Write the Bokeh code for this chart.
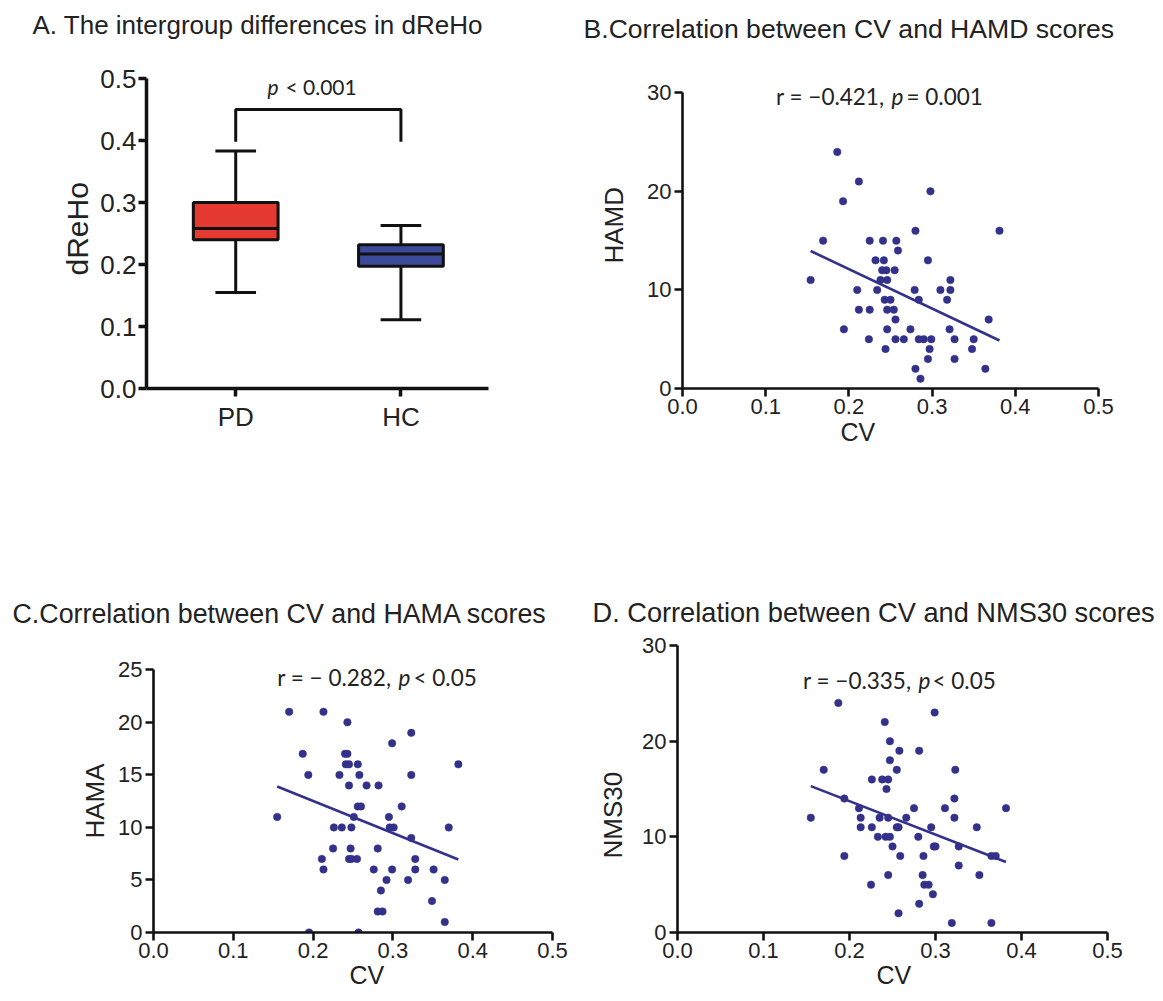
import numpy as np
from bokeh.plotting import figure
from bokeh.models import Range1d, FixedTicker, Label, PrintfTickFormatter, Title
from bokeh.layouts import row, column
from bokeh.embed import file_html
from bokeh.resources import INLINE

# ---------------- data ----------------
groups = ["PD", "HC"]
box_lower = [0.155, 0.111]
box_q1 = [0.240, 0.197]
box_median = [0.258, 0.217]
box_q3 = [0.300, 0.232]
box_upper = [0.383, 0.263]
box_colors = ["#E43A31", "#3D4A9A"]
bracket_y = 0.450
bracket_leg_bottom = 0.398

cv_hamd = [0.186, 0.212, 0.193, 0.298, 0.280, 0.169, 0.225, 0.241, 0.257, 0.259,
           0.232, 0.242, 0.295, 0.240, 0.245, 0.255, 0.154, 0.238, 0.246, 0.322,
           0.210, 0.234, 0.279, 0.310, 0.322, 0.243, 0.250, 0.284, 0.318, 0.212,
           0.225, 0.246, 0.254, 0.256, 0.194, 0.246, 0.274, 0.321, 0.224, 0.256,
           0.266, 0.284, 0.290, 0.299, 0.327, 0.244, 0.297, 0.295, 0.327, 0.280,
           0.286, 0.381, 0.368, 0.350, 0.348, 0.364]
hamd = [24, 21, 19, 20, 16, 15, 15, 15, 15, 14,
        13, 13, 13, 12, 12, 12, 11, 11, 11, 11,
        10, 10, 10, 10, 10, 9, 9, 9, 9, 8,
        8, 8, 8, 7, 6, 6, 6, 6, 5, 5,
        5, 5, 5, 5, 5, 4, 4, 3, 3, 2,
        1, 16, 7, 5, 4, 2]

cv_hama = [0.170, 0.213, 0.243, 0.187, 0.240, 0.243, 0.299, 0.323, 0.241, 0.245,
           0.256, 0.194, 0.233, 0.258, 0.323, 0.245, 0.267, 0.282, 0.256, 0.260,
           0.311, 0.155, 0.251, 0.295, 0.226, 0.236, 0.248, 0.296, 0.301, 0.323,
           0.225, 0.247, 0.281, 0.211, 0.245, 0.248, 0.255, 0.328, 0.213, 0.276,
           0.299, 0.328, 0.292, 0.319, 0.285, 0.281, 0.287, 0.195, 0.257, 0.382,
           0.370, 0.349, 0.365, 0.365, 0.351]
hama = [21, 21, 20, 17, 17, 17, 18, 19, 16, 16,
        16, 15, 15, 15, 15, 14, 14, 14, 12, 12,
        12, 11, 11, 11, 10, 10, 10, 10, 10, 9,
        8, 8, 8, 7, 7, 7, 7, 7, 6, 6,
        6, 6, 5, 5, 4, 2, 2, 0, 0, 16,
        10, 3, 1, 5, 6]

cv_nms = [0.187, 0.241, 0.299, 0.247, 0.258, 0.281, 0.247, 0.170, 0.255, 0.226,
          0.238, 0.245, 0.243, 0.194, 0.211, 0.275, 0.311, 0.155, 0.213, 0.235,
          0.245, 0.266, 0.322, 0.213, 0.226, 0.255, 0.257, 0.295, 0.233, 0.242,
          0.247, 0.280, 0.250, 0.298, 0.300, 0.327, 0.194, 0.259, 0.286, 0.327,
          0.245, 0.285, 0.225, 0.287, 0.292, 0.297, 0.281, 0.257, 0.319, 0.382,
          0.348, 0.351, 0.365, 0.370, 0.365, 0.323, 0.322]
nms30 = [24, 22, 23, 20, 19, 19, 18, 17, 17, 16,
         16, 16, 15, 14, 13, 13, 13, 12, 12, 12,
         12, 12, 12, 11, 11, 11, 11, 11, 10, 10,
         10, 10, 9, 9, 9, 9, 8, 8, 8, 7,
         6, 6, 5, 5, 5, 4, 3, 2, 1, 13,
         11, 6, 8, 8, 1, 17, 14]

cv_ticks = [0.0, 0.1, 0.2, 0.3, 0.4, 0.5]

# ---------------- styles ----------------
SANS = "Liberation Sans"
NOTE_FONT = "Lato"
TEXT = "#222222"
AXIS = "#111111"
DOT = "#33318A"


class Panel:
    """Figure with a fixed frame; texts inside the frame are placed at page pixel
    positions through the data scales."""

    def __init__(self, ox, oy, width, height, left, right, top, bottom, xr, yr):
        self.ox, self.oy = ox, oy
        self.fl, self.ft = left, top
        self.fw = width - left - right
        self.fh = height - top - bottom
        self.xr, self.yr = xr, yr
        p = figure(width=width, height=height, x_range=Range1d(*xr), y_range=Range1d(*yr),
                   output_backend="svg", toolbar_location=None,
                   min_border_left=left, min_border_right=right,
                   min_border_top=top, min_border_bottom=bottom)
        p.grid.visible = False
        p.outline_line_color = None
        self.p = p

    def dx(self, px):
        return self.xr[0] + (px - self.ox - self.fl) / self.fw * (self.xr[1] - self.xr[0])

    def dy(self, py):
        return self.yr[1] - (py - self.oy - self.ft) / self.fh * (self.yr[1] - self.yr[0])

    def text(self, px, py, text, size, font=NOTE_FONT, style="normal", align="left"):
        self.p.add_layout(Label(x=self.dx(px), y=self.dy(py), text=text, text_font=font,
                                text_font_size=size, text_font_style=style,
                                text_color=TEXT, text_align=align,
                                text_baseline="alphabetic"))

    def note(self, p_left, base, before, after, size, gap_before=7, gap_after=15):
        # "before" (normal) + italic "p" + "after" (normal)
        if before:
            self.text(p_left - gap_before, base, before, size, align="right")
        self.text(p_left, base, "p", size, style="italic")
        self.text(p_left + gap_after, base, after, size)

    def title(self, text, size, page_left, spacer):
        # spacer title sits next to the frame, the visible title above it
        self.p.add_layout(Title(text=" ", text_font_size="1px", standoff=spacer), "above")
        self.p.add_layout(Title(text=text, text_font=SANS, text_font_size=size,
                                text_font_style="normal", text_color=TEXT, align="left",
                                offset=page_left - self.ox - self.fl, standoff=0,
                                vertical_align="bottom"), "above")

    def ylabel(self, text, size, page_bottom_end, standoff):
        self.p.add_layout(Title(text=text, text_font=SANS, text_font_size=size,
                                text_font_style="normal", text_color=TEXT, align="left",
                                offset=self.oy + self.ft + self.fh - page_bottom_end,
                                standoff=standoff, vertical_align="bottom"), "left")

    def xlabel(self, text, size, page_left, standoff):
        self.p.add_layout(Title(text=text, text_font=SANS, text_font_size=size,
                                text_font_style="normal", text_color=TEXT, align="left",
                                offset=page_left - self.ox - self.fl,
                                standoff=standoff, vertical_align="top"), "below")


def style_axes(p, lw, tick_size, tick_standoff):
    for ax in p.axis:
        ax.axis_line_width = lw
        ax.axis_line_color = AXIS
        ax.major_tick_line_width = lw
        ax.major_tick_line_color = AXIS
        ax.major_tick_out = 8
        ax.major_tick_in = 0
        ax.minor_tick_line_color = None
        ax.major_label_text_font = SANS
        ax.major_label_text_font_size = tick_size
        ax.major_label_text_color = TEXT
        ax.major_label_standoff = tick_standoff


# ---------------- panel A ----------------
pos = [i + 1 for i in range(len(groups))]
A = Panel(0, 0, 560, 590, 146, 72, 78, 202, (0.46, 2.53), (0.0, 0.5))
pA = A.p
style_axes(pA, 3.5, "26px", 2)
pA.xaxis.ticker = FixedTicker(ticks=pos)
pA.xaxis.major_label_overrides = {p_: g for p_, g in zip(pos, groups)}
pA.xaxis.major_label_standoff = 5
pA.yaxis.ticker = FixedTicker(ticks=[0.0, 0.1, 0.2, 0.3, 0.4, 0.5])
pA.yaxis.formatter = PrintfTickFormatter(format="%.1f")

box_w = 0.513
cap_w = 0.246
pA.segment(x0=pos, y0=box_q3, x1=pos, y1=box_upper, line_color=AXIS, line_width=3)
pA.segment(x0=pos, y0=box_q1, x1=pos, y1=box_lower, line_color=AXIS, line_width=3)
pA.segment(x0=[x - cap_w / 2 for x in pos], y0=box_upper, x1=[x + cap_w / 2 for x in pos],
           y1=box_upper, line_color=AXIS, line_width=3)
pA.segment(x0=[x - cap_w / 2 for x in pos], y0=box_lower, x1=[x + cap_w / 2 for x in pos],
           y1=box_lower, line_color=AXIS, line_width=3)
pA.vbar(x=pos, width=box_w, bottom=box_q1, top=box_q3, fill_color=box_colors,
        line_color=AXIS, line_width=3)
pA.segment(x0=[x - box_w / 2 for x in pos], y0=box_median, x1=[x + box_w / 2 for x in pos],
           y1=box_median, line_color=AXIS, line_width=3)
pA.line(x=[pos[0], pos[0], pos[1], pos[1]],
        y=[bracket_leg_bottom, bracket_y, bracket_y, bracket_leg_bottom],
        line_color=AXIS, line_width=3)

A.title("A. The intergroup differences in dReHo", "26px", 32, 36)
A.ylabel("dReHo", "30px", 275, 7)
A.note(267, 86, None, "< 0.001", "21px", gap_after=18)


# ---------------- scatter panels ----------------
def scatter_panel(x, y, geom, axis_top_px, y_end, y_ticks):
    # frame tops are shared within a row; the y axis itself stops at y_end
    ox, oy, w, h, left, right, top, bottom = geom
    frame_bottom = oy + h - bottom
    y_top = y_end * (frame_bottom - (oy + top)) / (frame_bottom - axis_top_px)
    P = Panel(*geom, (0.0, 0.5), (0, y_top))
    p = P.p
    style_axes(p, 2.6, "22px", 3)
    p.xaxis.ticker = FixedTicker(ticks=cv_ticks)
    p.xaxis.formatter = PrintfTickFormatter(format="%.1f")
    p.xaxis.major_label_standoff = 2
    p.yaxis.ticker = FixedTicker(ticks=y_ticks)
    p.yaxis.bounds = (0, y_end)
    slope, intercept = np.polyfit(np.array(x), np.array(y), 1)
    xl = [min(x), max(x)]
    p.line(x=xl, y=[slope * v + intercept for v in xl], line_color=DOT, line_width=2.6)
    p.scatter(x=x, y=y, size=7.5, fill_color=DOT, line_color=DOT, line_width=0.5)
    return P


B = scatter_panel(cv_hamd, hamd, (560, 0, 603, 590, 122, 65, 78, 202), 92.3, 30,
                  [0, 10, 20, 30])
B.title("B.Correlation between CV and HAMD scores", "26.6px", 583, 32)
B.ylabel("HAMD", "26px", 263, 31)
B.xlabel("CV", "25px", 840, 2)
B.note(891, 96, "r = \u22120.421,", "= 0.001", "22.5px")

C = scatter_panel(cv_hama, hama, (0, 590, 570, 410, 153, 18, 55, 68), 669.3, 25,
                  [0, 5, 10, 15, 20, 25])
C.title("C.Correlation between CV and HAMA scores", "26.8px", 12, 14)
C.ylabel("HAMA", "26px", 838, 12)
C.xlabel("CV", "25px", 349, 1)
C.note(398, 677, "r = \u2212 0.282,", "< 0.05", "22.5px")

D = scatter_panel(cv_nms, nms30, (570, 590, 593, 410, 107, 56, 55, 68), 645, 30,
                  [0, 10, 20, 30])
D.title("D. Correlation between CV and NMS30 scores", "27.2px", 592, 15)
D.ylabel("NMS30", "26px", 858, 24)
D.xlabel("CV", "25px", 876, 1)
D.note(918, 680, "r = \u22120.335,", "< 0.05", "22.5px", gap_after=14)

layout = column(row(A.p, B.p), row(C.p, D.p))
open("out.html", "w").write(file_html(layout, INLINE))
